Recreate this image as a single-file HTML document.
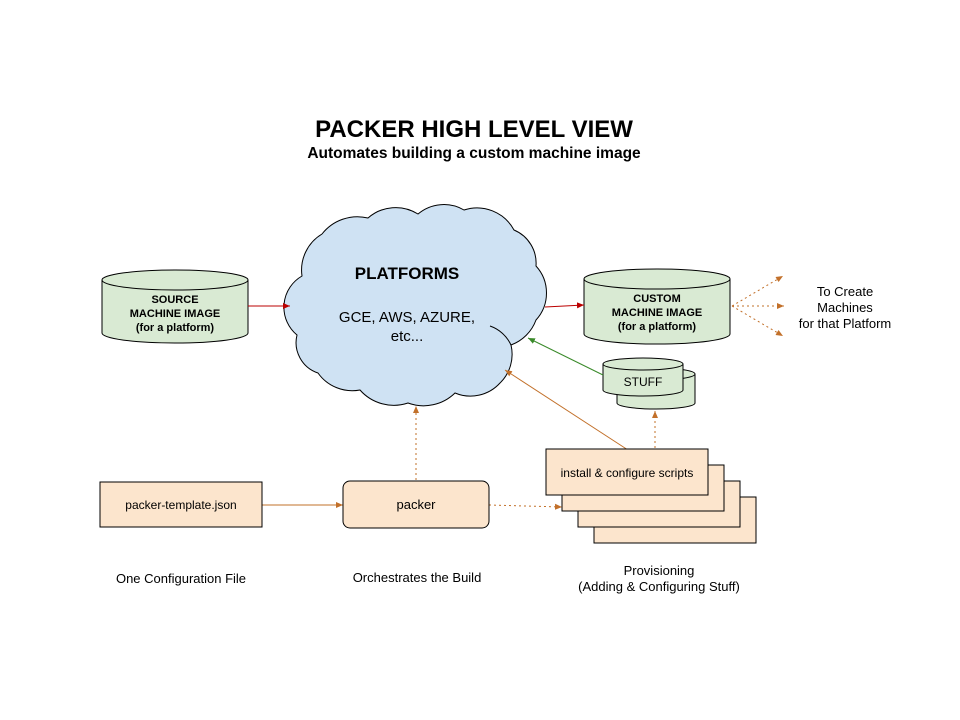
<!DOCTYPE html>
<html><head><meta charset="utf-8"><style>body{margin:0;background:#fff}svg{display:block}text{font-family:"Liberation Sans",Arial,sans-serif;fill:#000}</style></head>
<body>
<svg width="960" height="720" viewBox="0 0 960 720" xmlns="http://www.w3.org/2000/svg">
<defs>
<marker id="ar" markerWidth="8" markerHeight="8" refX="7" refY="4" orient="auto" markerUnits="userSpaceOnUse"><path d="M0,1 L7,4 L0,7 z" fill="#b00"/></marker>
<marker id="ao" markerWidth="8" markerHeight="8" refX="7" refY="4" orient="auto" markerUnits="userSpaceOnUse"><path d="M0,1 L7,4 L0,7 z" fill="#c2702a"/></marker>
<marker id="ag" markerWidth="8" markerHeight="8" refX="7" refY="4" orient="auto" markerUnits="userSpaceOnUse"><path d="M0,1 L7,4 L0,7 z" fill="#3a8a2a"/></marker>
</defs>
<text x="474" y="137" font-size="24" font-weight="bold" text-anchor="middle">PACKER HIGH LEVEL VIEW</text>
<text x="474" y="158" font-size="15.5" font-weight="bold" text-anchor="middle">Automates building a custom machine image</text>

<!-- source cylinder -->
<path d="M102,280 L102,333 A73,10 0 0 0 248,333 L248,280" fill="#d9ead3" stroke="#000"/>
<ellipse cx="175" cy="280" rx="73" ry="10" fill="#d9ead3" stroke="#000"/>
<g font-size="11" font-weight="bold" text-anchor="middle"><text x="175" y="303">SOURCE</text><text x="175" y="317">MACHINE IMAGE</text><text x="175" y="331">(for a platform)</text></g>

<!-- cloud -->
<path d="M297,335 A36,36 0 0 1 302,276 A42,42 0 0 1 322,234 A45,45 0 0 1 368,218 A42,42 0 0 1 418,214 A40,40 0 0 1 464,210 A42,42 0 0 1 514,230 A36,36 0 0 1 536,266 A40,40 0 0 1 536,320 A42,42 0 0 1 511,345 A40,40 0 0 1 500,383 A40,40 0 0 1 455,393 A45,45 0 0 1 408,403 A45,45 0 0 1 360,390 A42,42 0 0 1 318,373 A32,32 0 0 1 297,335 Z" fill="#cfe2f3" stroke="#000"/>
<path d="M511,345 A36,36 0 0 0 490,326" fill="none" stroke="#000"/>
<text x="407" y="279" font-size="17" font-weight="bold" text-anchor="middle">PLATFORMS</text>
<text x="407" y="322" font-size="15" text-anchor="middle">GCE, AWS, AZURE,</text>
<text x="407" y="341" font-size="15" text-anchor="middle">etc...</text>

<!-- custom cylinder -->
<path d="M584,279 L584,334 A73,10 0 0 0 730,334 L730,279" fill="#d9ead3" stroke="#000"/>
<ellipse cx="657" cy="279" rx="73" ry="10" fill="#d9ead3" stroke="#000"/>
<g font-size="11" font-weight="bold" text-anchor="middle"><text x="657" y="302">CUSTOM</text><text x="657" y="316">MACHINE IMAGE</text><text x="657" y="330">(for a platform)</text></g>

<!-- stuff -->
<path d="M617,374 L617,403 A39,6 0 0 0 695,403 L695,374" fill="#d9ead3" stroke="#000"/>
<ellipse cx="656" cy="374" rx="39" ry="6" fill="#d9ead3" stroke="#000"/>
<path d="M603,364 L603,390 A40,6 0 0 0 683,390 L683,364" fill="#d9ead3" stroke="#000"/>
<ellipse cx="643" cy="364" rx="40" ry="6" fill="#d9ead3" stroke="#000"/>
<text x="643" y="386" font-size="12" text-anchor="middle">STUFF</text>

<!-- connectors -->
<line x1="248" y1="306" x2="290" y2="306" stroke="#b00" marker-end="url(#ar)"/>
<line x1="545" y1="307" x2="584" y2="305" stroke="#b00" marker-end="url(#ar)"/>
<line x1="603" y1="375" x2="528" y2="338" stroke="#3a8a2a" marker-end="url(#ag)"/>
<line x1="628" y1="450" x2="505" y2="370" stroke="#c2702a" marker-end="url(#ao)"/>
<line x1="416" y1="480" x2="416" y2="406" stroke="#c2702a" stroke-dasharray="2,3" marker-end="url(#ao)"/>
<line x1="655" y1="448" x2="655" y2="411" stroke="#c2702a" stroke-dasharray="2,3" marker-end="url(#ao)"/>
<line x1="732" y1="306" x2="783" y2="276" stroke="#c2702a" stroke-dasharray="2,3" marker-end="url(#ao)"/>
<line x1="732" y1="306" x2="784" y2="306" stroke="#c2702a" stroke-dasharray="2,3" marker-end="url(#ao)"/>
<line x1="732" y1="306" x2="783" y2="336" stroke="#c2702a" stroke-dasharray="2,3" marker-end="url(#ao)"/>
<line x1="262" y1="505" x2="343" y2="505" stroke="#c2702a" marker-end="url(#ao)"/>
<line x1="489" y1="505" x2="562" y2="507" stroke="#c2702a" stroke-dasharray="2,3" marker-end="url(#ao)"/>

<g font-size="13" text-anchor="middle"><text x="845" y="296">To Create</text><text x="845" y="312">Machines</text><text x="845" y="328">for that Platform</text></g>

<!-- boxes -->
<rect x="100" y="482" width="162" height="45" fill="#fce5cd" stroke="#000"/>
<text x="181" y="509" font-size="12" text-anchor="middle">packer-template.json</text>
<rect x="343" y="481" width="146" height="47" rx="7" fill="#fce5cd" stroke="#000"/>
<text x="416" y="509" font-size="13" text-anchor="middle">packer</text>
<rect x="594" y="497" width="162" height="46" fill="#fce5cd" stroke="#000"/>
<rect x="578" y="481" width="162" height="46" fill="#fce5cd" stroke="#000"/>
<rect x="562" y="465" width="162" height="46" fill="#fce5cd" stroke="#000"/>
<rect x="546" y="449" width="162" height="46" fill="#fce5cd" stroke="#000"/>
<text x="627" y="477" font-size="12" text-anchor="middle">install &amp; configure scripts</text>

<g font-size="13" text-anchor="middle"><text x="181" y="583">One Configuration File</text><text x="417" y="582">Orchestrates the Build</text><text x="659" y="575">Provisioning</text><text x="659" y="591">(Adding &amp; Configuring Stuff)</text></g>
</svg>
</body></html>
